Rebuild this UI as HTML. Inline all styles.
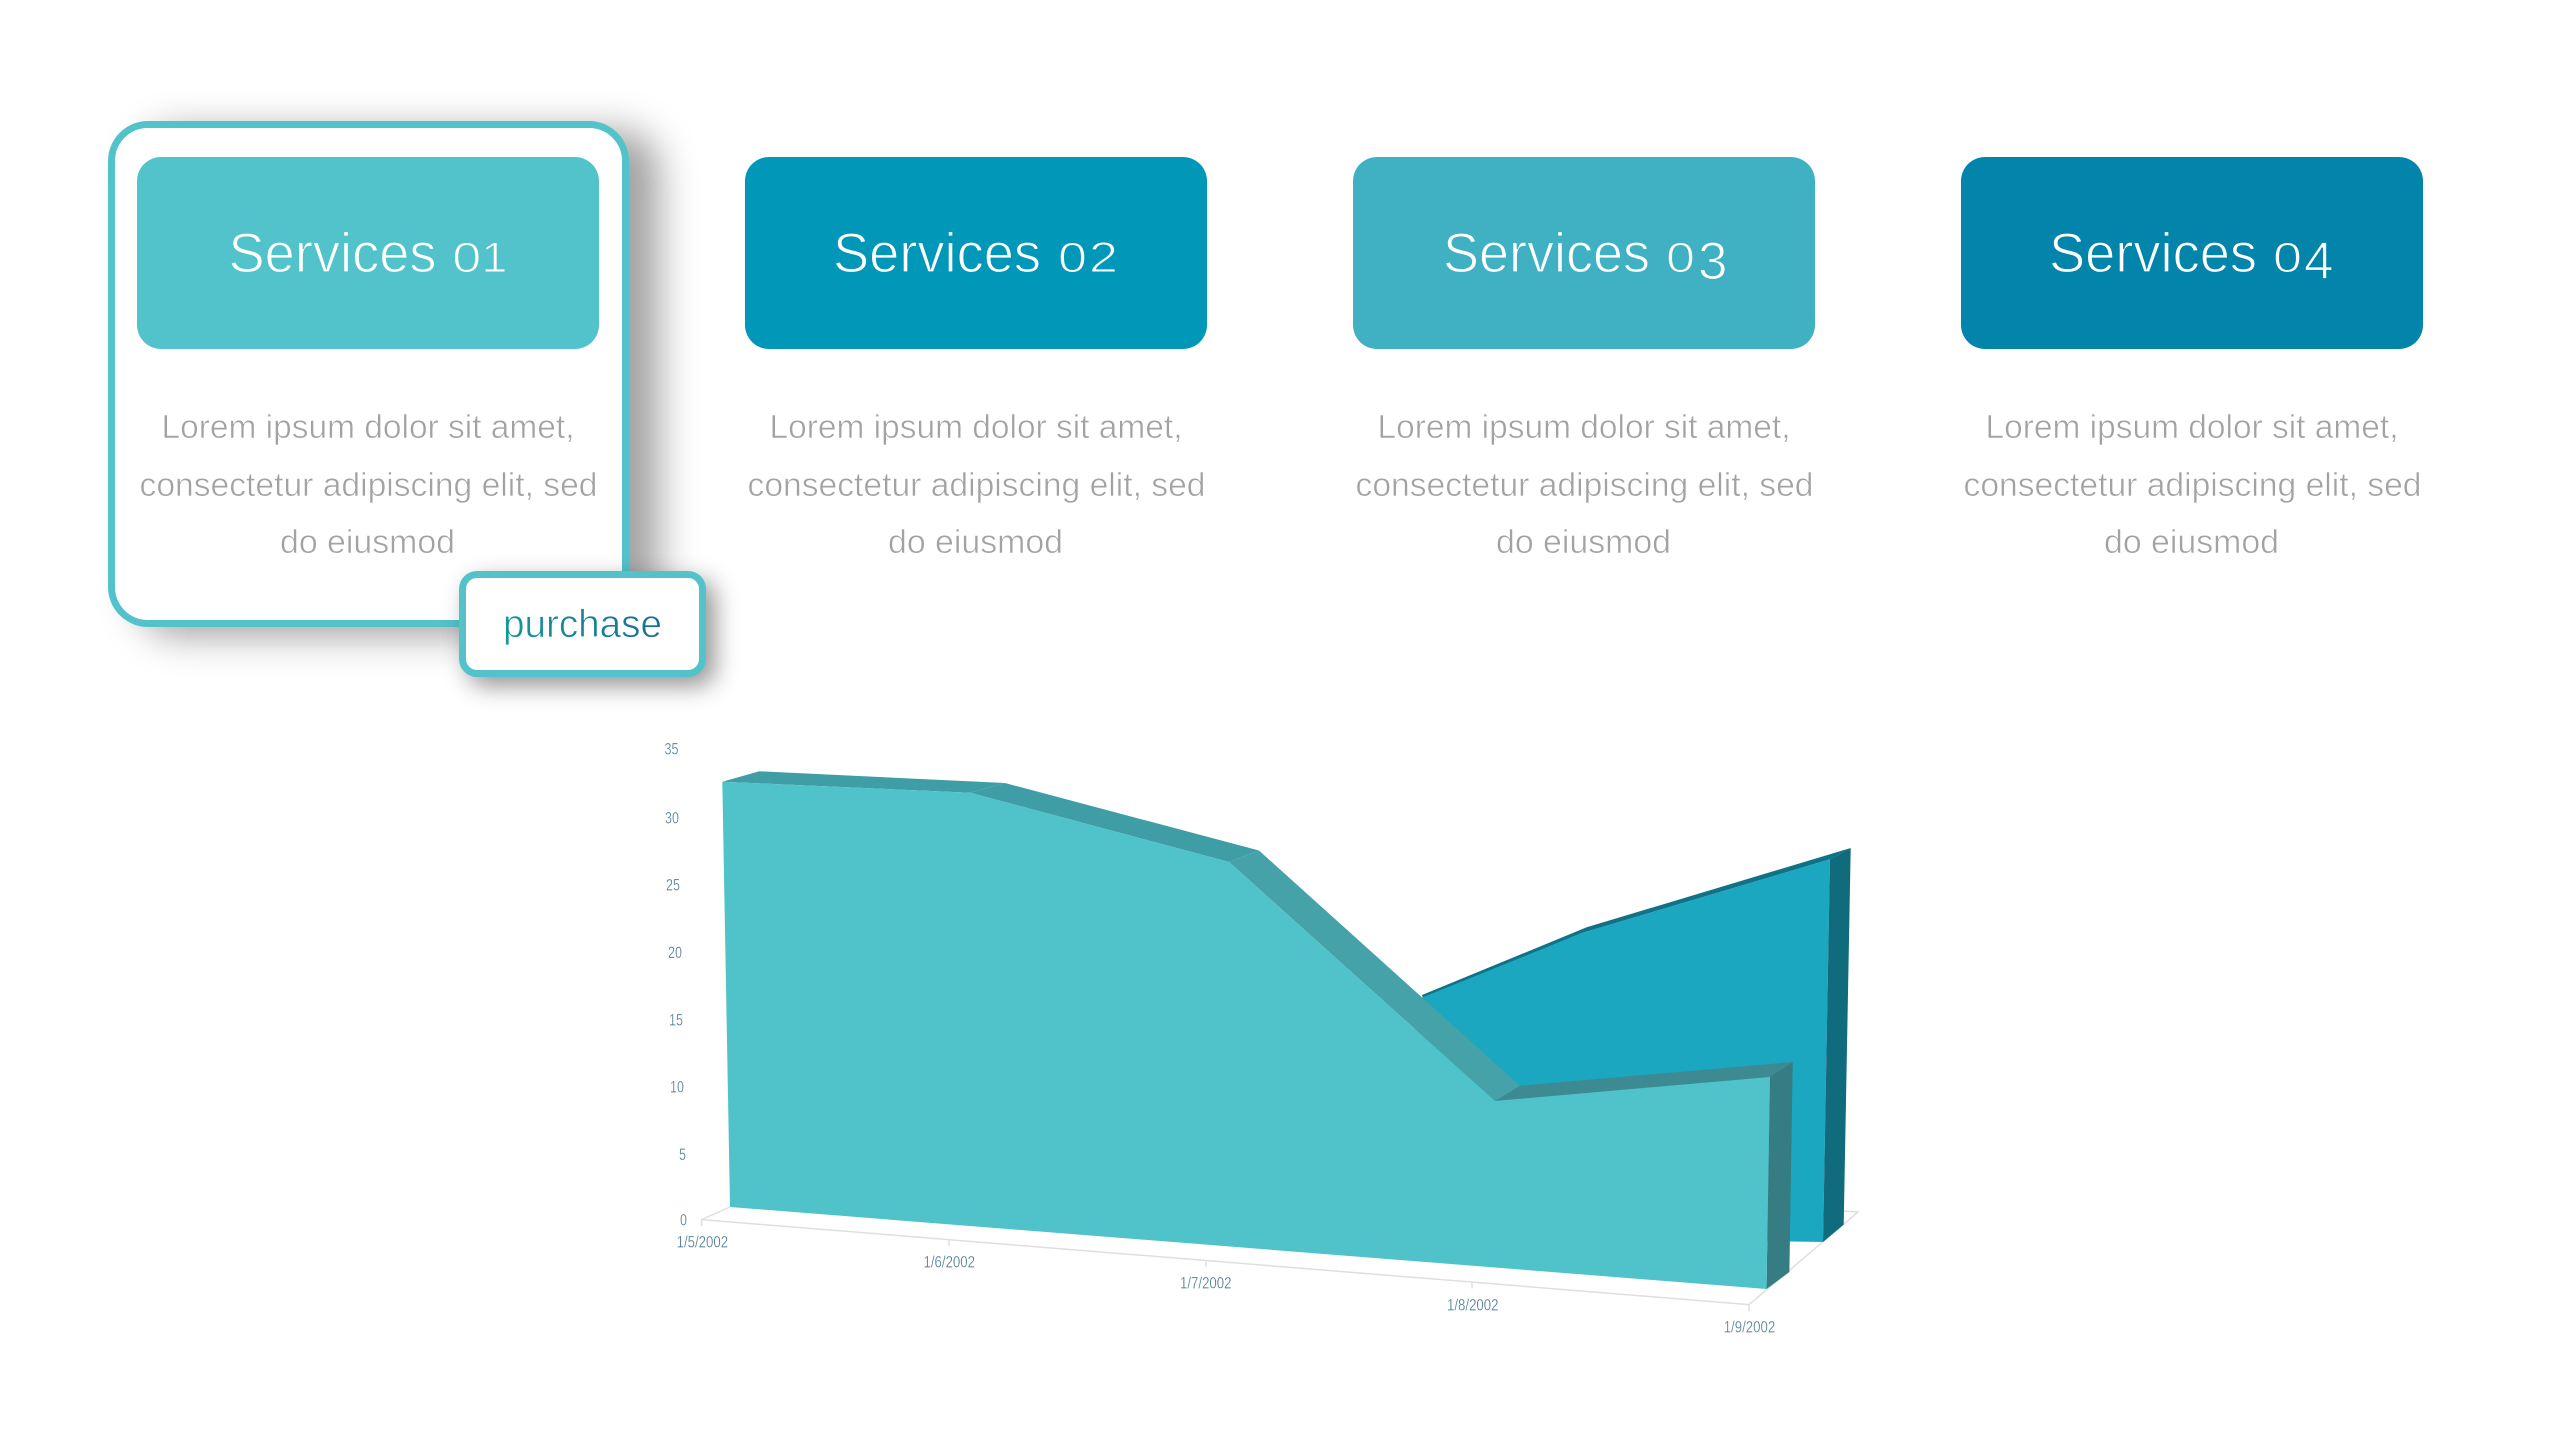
<!DOCTYPE html>
<html lang="en"><head><meta charset="utf-8"><title>Services</title>
<style>
html,body{margin:0;padding:0;background:#fff;width:2560px;height:1440px;overflow:hidden}
.abs{position:absolute;box-sizing:border-box}
.card{left:108px;top:121px;width:521px;height:506px;border:7px solid #53c3cb;border-radius:40px;background:#fff;box-shadow:30px 9px 38px rgba(0,0,0,.37)}
.btn{left:459px;top:571px;width:247px;height:106px;border:7px solid #53c3cb;border-radius:18px;background:#fff;box-shadow:9px 9px 24px rgba(0,0,0,.42)}
.box{top:156.5px;width:462px;height:192.5px;border-radius:24px}
svg{position:absolute;left:0;top:0}
text{font-family:"Liberation Sans",sans-serif}
.t{font-size:56px;fill:#fff;stroke-width:1.2px}
.d{font-size:43px;fill:#fff;stroke-width:1.1px}
.o{font-size:53px;fill:#fff;stroke-width:1.2px}
.b{font-size:33px;fill:#a2a2a2;stroke:#fff;stroke-width:.6px}
.y{font-size:17px;fill:#4f7b94;stroke:#fff;stroke-width:.25px}
.x{font-size:16.5px;fill:#4f7b94;stroke:#fff;stroke-width:.25px}
.c1{stroke:#53c3cb}.c2{stroke:#0097b8}.c3{stroke:#3fb1c3}.c4{stroke:#0284ab}
</style></head>
<body>
<div class="abs card"></div>
<div class="abs box" style="left:137px;background:#53c3cb"></div>
<div class="abs box" style="left:745px;background:#0097b8"></div>
<div class="abs box" style="left:1353px;background:#3fb1c3"></div>
<div class="abs box" style="left:1961px;background:#0284ab"></div>
<div class="abs btn"></div>
<svg width="2560" height="1440" viewBox="0 0 2560 1440" xmlns="http://www.w3.org/2000/svg">
<defs>
<linearGradient id="pg" x1="504" x2="661" y1="0" y2="0" gradientUnits="userSpaceOnUse"><stop offset="0" stop-color="#15979a"/><stop offset="1" stop-color="#1a6f94"/></linearGradient>
</defs>

<!-- Titles -->
<g>
<text class="t c1" x="228.5" y="272" textLength="208" lengthAdjust="spacingAndGlyphs">Services</text>
<text class="d c1" x="452.3" y="272" textLength="29" lengthAdjust="spacingAndGlyphs">0</text>
<text class="d c1" x="481.4" y="272" textLength="26" lengthAdjust="spacingAndGlyphs">1</text>

<text class="t c2" x="833" y="272" textLength="208" lengthAdjust="spacingAndGlyphs">Services</text>
<text class="d c2" x="1058" y="272" textLength="29" lengthAdjust="spacingAndGlyphs">0</text>
<text class="d c2" x="1089" y="272" textLength="29" lengthAdjust="spacingAndGlyphs">2</text>

<text class="t c3" x="1443" y="272" textLength="207" lengthAdjust="spacingAndGlyphs">Services</text>
<text class="d c3" x="1666" y="272" textLength="29" lengthAdjust="spacingAndGlyphs">0</text>
<text class="o c3" x="1698" y="279">3</text>

<text class="t c4" x="2049" y="272" textLength="208" lengthAdjust="spacingAndGlyphs">Services</text>
<text class="d c4" x="2273" y="272" textLength="29" lengthAdjust="spacingAndGlyphs">0</text>
<text class="o c4" x="2304" y="279">4</text>
</g>

<!-- Body copy -->
<g>
<text class="b" x="161.5" y="438" textLength="413" lengthAdjust="spacingAndGlyphs">Lorem ipsum dolor sit amet,</text>
<text class="b" x="139.5" y="496" textLength="458" lengthAdjust="spacingAndGlyphs">consectetur adipiscing elit, sed</text>
<text class="b" x="280" y="553" textLength="175" lengthAdjust="spacingAndGlyphs">do eiusmod</text>

<text class="b" x="769.5" y="438" textLength="413" lengthAdjust="spacingAndGlyphs">Lorem ipsum dolor sit amet,</text>
<text class="b" x="747.5" y="496" textLength="458" lengthAdjust="spacingAndGlyphs">consectetur adipiscing elit, sed</text>
<text class="b" x="888" y="553" textLength="175" lengthAdjust="spacingAndGlyphs">do eiusmod</text>

<text class="b" x="1377.5" y="438" textLength="413" lengthAdjust="spacingAndGlyphs">Lorem ipsum dolor sit amet,</text>
<text class="b" x="1355.5" y="496" textLength="458" lengthAdjust="spacingAndGlyphs">consectetur adipiscing elit, sed</text>
<text class="b" x="1496" y="553" textLength="175" lengthAdjust="spacingAndGlyphs">do eiusmod</text>

<text class="b" x="1985.5" y="438" textLength="413" lengthAdjust="spacingAndGlyphs">Lorem ipsum dolor sit amet,</text>
<text class="b" x="1963.5" y="496" textLength="458" lengthAdjust="spacingAndGlyphs">consectetur adipiscing elit, sed</text>
<text class="b" x="2104" y="553" textLength="175" lengthAdjust="spacingAndGlyphs">do eiusmod</text>
</g>

<text x="503" y="637" font-size="39" fill="url(#pg)" stroke="#fff" stroke-width=".7" textLength="159" lengthAdjust="spacingAndGlyphs">purchase</text>

<!-- Floor / axis lines -->
<g stroke="#dfdfdf" stroke-width="1.5" fill="none">
<path d="M730 1207 L701.6 1219.6 L1749 1304.6 L1858 1212 L1843 1211"/>
<path d="M701.6 1219.6V1226M949 1240V1246M1206 1261V1267M1472 1282.5V1288.5M1749 1304.6V1311"/>
</g>

<!-- Back series -->
<polygon points="1422,995 1586.7,927.3 1850.7,848 1830,859.3 1582,933 1423,998" fill="#0f7286"/>
<polygon points="1422,997.5 1582,933 1830,859.3 1823,1242 1700,1240 1400,1100" fill="#1ba7bf"/>
<polygon points="1830,859.3 1850.7,848 1843.7,1224.6 1823,1242" fill="#106b7c"/>

<!-- Front series -->
<polygon points="722.3,781.7 759.3,771.3 1005,783 970,792.7" fill="#3f9ea5"/>
<polygon points="970,792.7 1005,783 1259,850.5 1229,862" fill="#3f9ea5"/>
<polygon points="1229,862 1259,850.5 1520,1085.7 1495,1101" fill="#46a2a9"/>
<polygon points="1495,1101 1520,1085.7 1792.7,1062 1770,1077" fill="#3e8a92"/>
<polygon points="1770,1077 1792.7,1062 1789.4,1272 1766.5,1289" fill="#367c83"/>
<polygon points="722.3,781.7 970,792.7 1229,862 1495,1101 1770,1077 1766.5,1289 730,1207" fill="#50c3ca"/>

<!-- Y labels -->
<g>
<text class="y" x="664.5" y="754.5" textLength="14" lengthAdjust="spacingAndGlyphs">35</text>
<text class="y" x="665" y="823.5" textLength="14" lengthAdjust="spacingAndGlyphs">30</text>
<text class="y" x="666" y="890.5" textLength="14" lengthAdjust="spacingAndGlyphs">25</text>
<text class="y" x="668" y="958" textLength="14" lengthAdjust="spacingAndGlyphs">20</text>
<text class="y" x="669" y="1025.5" textLength="14" lengthAdjust="spacingAndGlyphs">15</text>
<text class="y" x="670" y="1092.5" textLength="14" lengthAdjust="spacingAndGlyphs">10</text>
<text class="y" x="679" y="1160" textLength="7" lengthAdjust="spacingAndGlyphs">5</text>
<text class="y" x="680" y="1225.5" textLength="7" lengthAdjust="spacingAndGlyphs">0</text>
</g>
<!-- X labels -->
<g>
<text class="x" x="676.6" y="1247.5" textLength="51.5" lengthAdjust="spacingAndGlyphs">1/5/2002</text>
<text class="x" x="923.5" y="1267.5" textLength="51.5" lengthAdjust="spacingAndGlyphs">1/6/2002</text>
<text class="x" x="1180" y="1288.5" textLength="51.5" lengthAdjust="spacingAndGlyphs">1/7/2002</text>
<text class="x" x="1447" y="1310.5" textLength="51.5" lengthAdjust="spacingAndGlyphs">1/8/2002</text>
<text class="x" x="1723.7" y="1332.5" textLength="51.5" lengthAdjust="spacingAndGlyphs">1/9/2002</text>
</g>
</svg>
</body></html>
